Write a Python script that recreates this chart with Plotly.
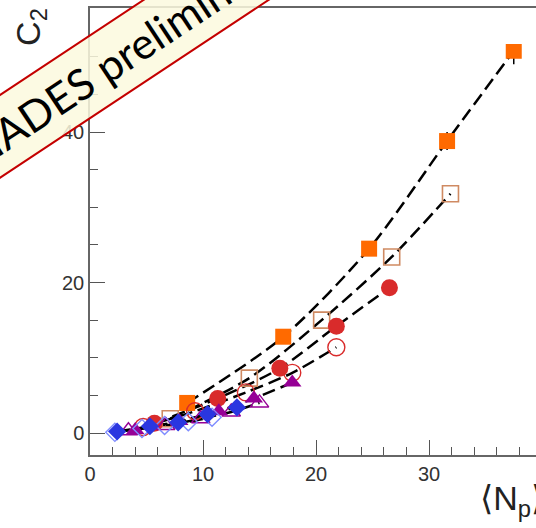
import plotly.graph_objects as go

# <N_p> and C2 for each centrality class (filled / open marker sets)
np_sq_filled = [8.6, 17.1, 24.7, 31.6, 37.5]
c2_sq_filled = [4.0, 12.8, 24.5, 38.8, 50.8]
err_sq_filled = [0.3, 0.5, 0.8, 1.2, 1.8]

np_sq_open = [7.1, 14.1, 20.5, 26.7, 31.9]
c2_sq_open = [1.9, 7.3, 15.0, 23.4, 31.8]

np_ci_filled = [5.7, 11.3, 16.8, 21.8, 26.5]
c2_ci_filled = [1.3, 4.6, 8.6, 14.2, 19.3]

np_ci_open = [4.7, 9.3, 13.8, 17.9, 21.8]
c2_ci_open = [0.8, 2.9, 5.4, 8.0, 11.4]

np_tr_filled = [4.0, 7.9, 11.4, 14.5, 17.9]
c2_tr_filled = [0.4, 1.6, 2.9, 4.6, 6.7]

np_tr_open = [3.4, 6.7, 9.8, 12.5, 15.0]
c2_tr_open = [0.3, 1.0, 1.9, 2.8, 4.0]

np_di_filled = [2.4, 5.3, 7.8, 10.4, 13.0]
c2_di_filled = [0.2, 0.9, 1.4, 2.5, 3.4]

np_di_open = [2.2, 4.6, 6.6, 8.7, 10.8]
c2_di_open = [0.1, 0.6, 1.0, 1.5, 2.1]

x_tick_vals = [0, 10, 20, 30]
y_tick_vals = [0, 20, 40]

ORANGE = "#ff6a00"
ORANGE_OPEN = "#cf8a62"
RED = "#d92b2b"
PURPLE = "#960096"
BLUE = "#2a36e0"
BLUE_OPEN = "#7f8cff"

series = [
    # (x, y, symbol, size, fill colour, line colour, line width, errors)
    (np_sq_open, c2_sq_open, "square-open", 16, ORANGE_OPEN, ORANGE_OPEN, 1.6, None),
    (np_sq_filled, c2_sq_filled, "square", 16, ORANGE, ORANGE, 0, err_sq_filled),
    (np_ci_open, c2_ci_open, "circle-open", 17, RED, RED, 1.4, None),
    (np_ci_filled, c2_ci_filled, "circle", 17, RED, RED, 0, None),
    (np_tr_open, c2_tr_open, "triangle-up-open", 16, PURPLE, PURPLE, 1.4, None),
    (np_tr_filled, c2_tr_filled, "triangle-up", 16, PURPLE, PURPLE, 0, None),
    (np_di_open, c2_di_open, "diamond-open", 14, BLUE_OPEN, BLUE_OPEN, 1.4, None),
    (np_di_filled, c2_di_filled, "diamond", 14, BLUE, BLUE, 0, None),
]

fig = go.Figure()

# dashed curves through every set of points
for xs, ys, *_ in series:
    fig.add_trace(go.Scatter(
        x=xs, y=ys, mode="lines",
        line=dict(color="black", width=2.5, dash="13px,6px", shape="spline", smoothing=0.8),
        hoverinfo="skip", showlegend=False,
    ))

# markers on top of the curves
for xs, ys, sym, size, col, lcol, lw, err in series:
    tr = go.Scatter(
        x=xs, y=ys, mode="markers",
        marker=dict(symbol=sym, size=size, color=col,
                    line=dict(color=lcol, width=lw)),
        showlegend=False,
    )
    if err is not None:
        tr.error_y = dict(type="data", array=err, visible=True,
                          color="black", thickness=1.5, width=0)
    fig.add_trace(tr)

# empty trace that carries the short helper axis holding the C2 title
fig.add_trace(go.Scatter(x=[None], y=[None], yaxis="y2", showlegend=False, hoverinfo="skip"))

W, H = 536, 528
ML, MR, MT, MB = 90, 0, 8, 73
PW, PH = W - ML - MR, H - MT - MB


def px(xp, yp):
    """pixel position -> paper coordinates"""
    return (xp - ML) / PW, (H - MB - yp) / PH


annotations = []

# x-axis title
ax, ay = px(478, 500)
annotations.append(dict(
    text="⟨N<sub>p</sub>⟩", x=ax, y=ay, xref="paper", yref="paper",
    xanchor="left", yanchor="middle", showarrow=False,
    font=dict(family="Liberation Sans, DejaVu Sans, sans-serif", size=34, color="#222"),
))

# preliminary banner (semi-transparent so the axis shows through)
ax, ay = px(122, 55)
annotations.append(dict(
    text="HADES preliminary", x=ax, y=ay, xref="paper", yref="paper",
    xanchor="center", yanchor="middle", textangle=-33.5, showarrow=False,
    font=dict(family="Lato, Open Sans, sans-serif", size=43, color="black"),
    bgcolor="rgba(252,249,222,0.85)", bordercolor="#c40000", borderwidth=2, borderpad=8,
))

axis_font = dict(family="Liberation Sans, Arial, sans-serif", size=20, color="#333")
_, t_lo = px(0, 44)
_, t_hi = px(0, 10)

fig.update_layout(
    width=W, height=H,
    margin=dict(l=ML, r=MR, t=MT, b=MB),
    paper_bgcolor="white", plot_bgcolor="white",
    annotations=annotations,
    xaxis=dict(
        range=[0, PW / 11.3], tickvals=x_tick_vals, ticktext=[str(v) for v in x_tick_vals],
        ticks="inside", ticklen=15, tickwidth=1.3, tickcolor="#555",
        minor=dict(dtick=2, tick0=0, ticks="inside", ticklen=8, tickwidth=1.2, tickcolor="#555"),
        showline=True, linecolor="#666", linewidth=1.5, mirror=True,
        showgrid=False, zeroline=False, tickfont=axis_font,
    ),
    yaxis=dict(
        range=[-2.92, -2.92 + PH / 7.525], tickvals=y_tick_vals,
        ticktext=[str(v) for v in y_tick_vals],
        ticks="inside", ticklen=15, tickwidth=1.3, tickcolor="#555",
        minor=dict(dtick=5, tick0=0, ticks="inside", ticklen=8, tickwidth=1.2, tickcolor="#555"),
        showline=True, linecolor="#666", linewidth=1.5, mirror=False,
        showgrid=False, zeroline=False, tickfont=axis_font,
    ),
    yaxis2=dict(
        domain=[t_lo, t_hi], anchor="free", position=0, side="left",
        showline=False, showticklabels=False, ticks="", showgrid=False, zeroline=False,
        title=dict(text="C<sub>2</sub>", standoff=38,
                   font=dict(family="Liberation Sans, Arial, sans-serif", size=34, color="#222")),
    ),
)

fig.write_html("out.html")
